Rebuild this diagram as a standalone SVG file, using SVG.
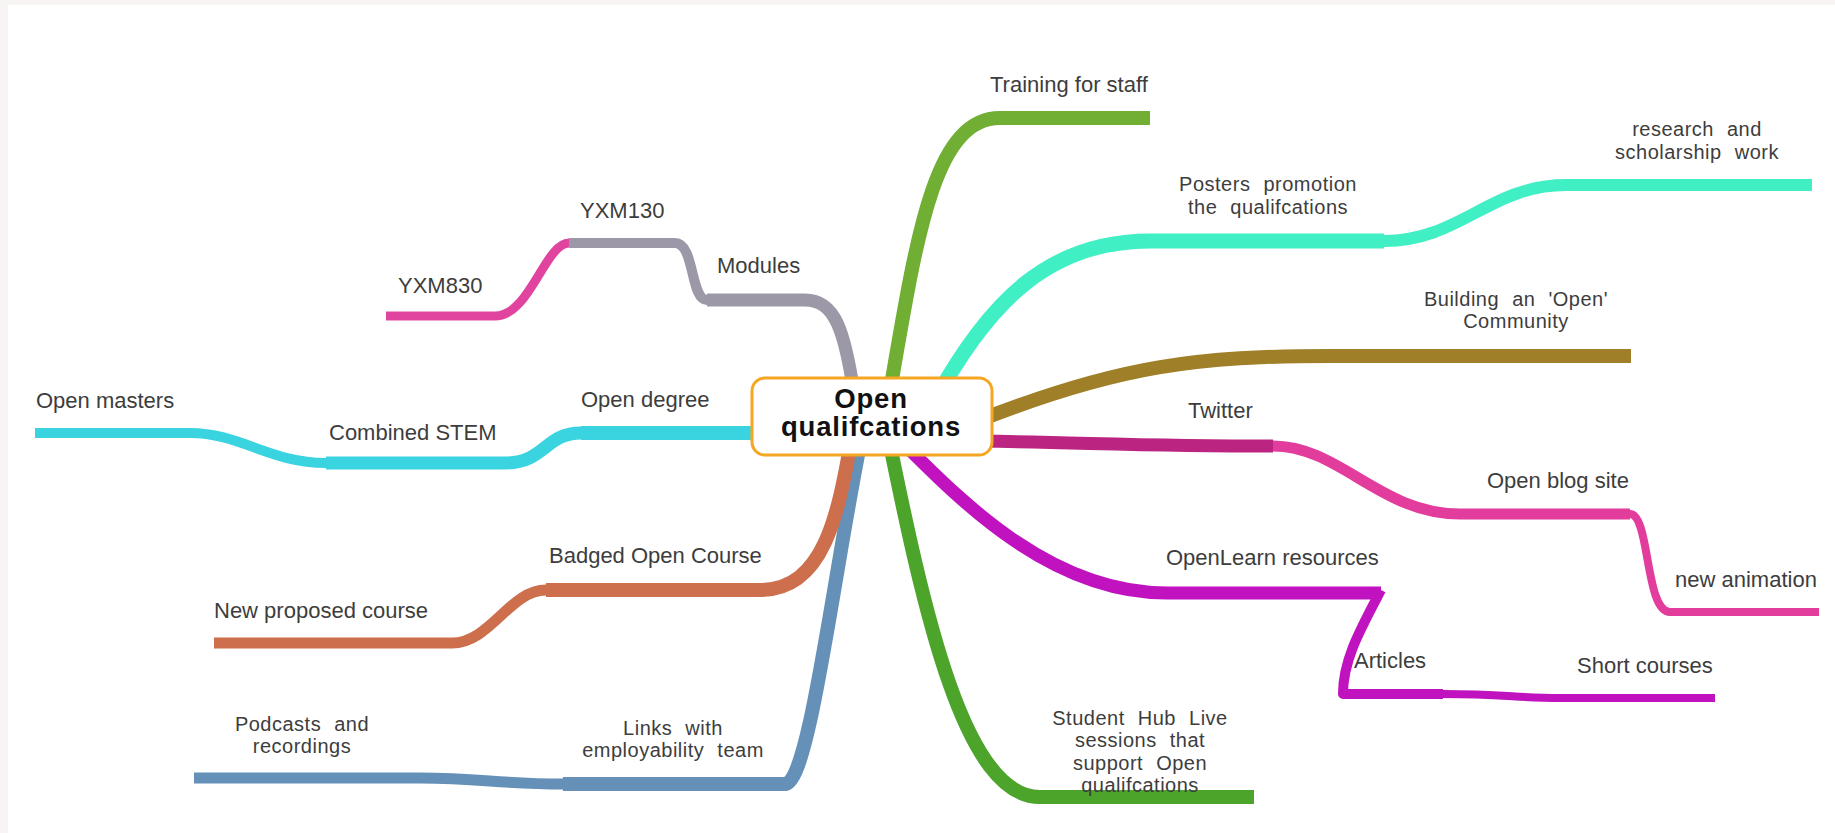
<svg xmlns="http://www.w3.org/2000/svg" width="1835" height="833" viewBox="0 0 1835 833">
<style>
.c{fill:none;stroke-linecap:butt;stroke-linejoin:round}
.t{font-family:"Liberation Sans",Arial,sans-serif;font-size:22px;fill:#3d3d3d}
.m{text-anchor:middle;font-size:20px;letter-spacing:0.5px;word-spacing:7px}
.root{font-family:"Liberation Sans",Arial,sans-serif;font-size:27.5px;font-weight:bold;fill:#111;text-anchor:middle;letter-spacing:0.8px}
</style>
<rect x="0" y="0" width="1835" height="833" fill="#f8f4f4"/>
<rect x="8" y="5" width="1827" height="828" fill="#ffffff"/>
<g id="connectors">
<path class="c" stroke="#70ae34" stroke-width="14" d="M 885 420 C 915 250 930 118 1000 118 L 1150 118"/>
<path class="c" stroke="#40efc4" stroke-width="15" d="M 935 400 C 990 300 1050 241 1150 241 L 1384 241"/>
<path class="c" stroke="#40efc4" stroke-width="12" d="M 1384 241 C 1460 241 1490 185 1566 185 L 1812 185"/>
<path class="c" stroke="#9f7f27" stroke-width="14" d="M 980 420 C 1120 365 1200 356 1330 356 L 1631 356"/>
<path class="c" stroke="#bb2480" stroke-width="13" d="M 980 441 C 1100 443 1150 446 1273 446"/>
<path class="c" stroke="#e23c9d" stroke-width="11" d="M 1273 446 C 1340 446 1380 514 1460 514 L 1630 514"/>
<path class="c" stroke="#e23c9d" stroke-width="8" d="M 1630 514 C 1650 514 1645 612 1670 612 L 1819 612"/>
<path class="c" stroke="#c112bf" stroke-width="13" d="M 900 440 C 960 500 1050 593 1167 593 L 1381 593"/>
<path class="c" stroke="#c112bf" stroke-width="10" d="M 1381 590 C 1360 630 1343 660 1343 694 L 1443 694"/>
<path class="c" stroke="#c112bf" stroke-width="8" d="M 1443 694 C 1500 694 1520 698 1560 698 L 1715 698"/>
<path class="c" stroke="#4ca42b" stroke-width="14" d="M 885 420 C 925 620 965 797 1040 797 L 1254 797"/>
<path class="c" stroke="#6590b7" stroke-width="14" d="M 865 420 C 835 560 810 784 785 784 L 563 784"/>
<path class="c" stroke="#6590b7" stroke-width="11" d="M 563 784 C 500 784 480 778 420 778 L 194 778"/>
<path class="c" stroke="#cd6f4d" stroke-width="14" d="M 855 420 C 840 500 830 590 760 590 L 546 590"/>
<path class="c" stroke="#cd6f4d" stroke-width="11" d="M 546 590 C 510 590 490 643 452 643 L 214 643"/>
<path class="c" stroke="#3ad4e1" stroke-width="14" d="M 780 433 L 581 433"/>
<path class="c" stroke="#3ad4e1" stroke-width="13" d="M 581 433 C 545 433 545 463 505 463 L 326 463"/>
<path class="c" stroke="#3ad4e1" stroke-width="10" d="M 326 463 C 270 463 240 433 190 433 L 35 433"/>
<path class="c" stroke="#9c98a7" stroke-width="13" d="M 855 400 C 845 330 835 300 805 300 L 707 300"/>
<path class="c" stroke="#9c98a7" stroke-width="10" d="M 707 300 C 690 300 695 243 675 243 L 569 243"/>
<path class="c" stroke="#e0449f" stroke-width="9" d="M 569 243 C 545 243 530 316 495 316 L 386 316"/>
</g>
<g id="root">
<rect x="752" y="378" width="240" height="77" rx="13" ry="13" fill="#ffffff" stroke="#f5a623" stroke-width="3"/>
<text class="root" x="871" y="408">Open</text>
<text class="root" x="871" y="436">qualifcations</text>
</g>
<g id="training"><text class="t" x="990" y="92">Training for staff</text></g>
<g id="posters"><text class="t m" x="1268" y="191.25">Posters promotion</text><text class="t m" x="1268" y="213.75">the qualifcations</text></g>
<g id="research"><text class="t m" x="1697" y="136.25">research and</text><text class="t m" x="1697" y="158.75">scholarship work</text></g>
<g id="building"><text class="t m" x="1516" y="305.75">Building an 'Open'</text><text class="t m" x="1516" y="328.25">Community</text></g>
<g id="twitter"><text class="t" x="1188" y="418">Twitter</text></g>
<g id="blog"><text class="t" x="1487" y="488">Open blog site</text></g>
<g id="animation"><text class="t" x="1675" y="587">new animation</text></g>
<g id="openlearn"><text class="t" x="1166" y="565">OpenLearn resources</text></g>
<g id="articles"><text class="t" x="1354" y="668">Articles</text></g>
<g id="short"><text class="t" x="1577" y="673">Short courses</text></g>
<g id="studenthub"><text class="t m" x="1140" y="724.75">Student Hub Live</text><text class="t m" x="1140" y="747.25">sessions that</text><text class="t m" x="1140" y="769.75">support Open</text><text class="t m" x="1140" y="792.25">qualifcations</text></g>
<g id="links"><text class="t m" x="673" y="734.75">Links with</text><text class="t m" x="673" y="757.25">employability team</text></g>
<g id="podcasts"><text class="t m" x="302" y="730.75">Podcasts and</text><text class="t m" x="302" y="753.25">recordings</text></g>
<g id="badged"><text class="t" x="549" y="563">Badged Open Course</text></g>
<g id="newcourse"><text class="t" x="214" y="618">New proposed course</text></g>
<g id="degree"><text class="t" x="581" y="407">Open degree</text></g>
<g id="stem"><text class="t" x="329" y="440">Combined STEM</text></g>
<g id="masters"><text class="t" x="36" y="408">Open masters</text></g>
<g id="modules"><text class="t" x="717" y="273">Modules</text></g>
<g id="yxm130"><text class="t" x="580" y="218">YXM130</text></g>
<g id="yxm830"><text class="t" x="398" y="293">YXM830</text></g>
</svg>
